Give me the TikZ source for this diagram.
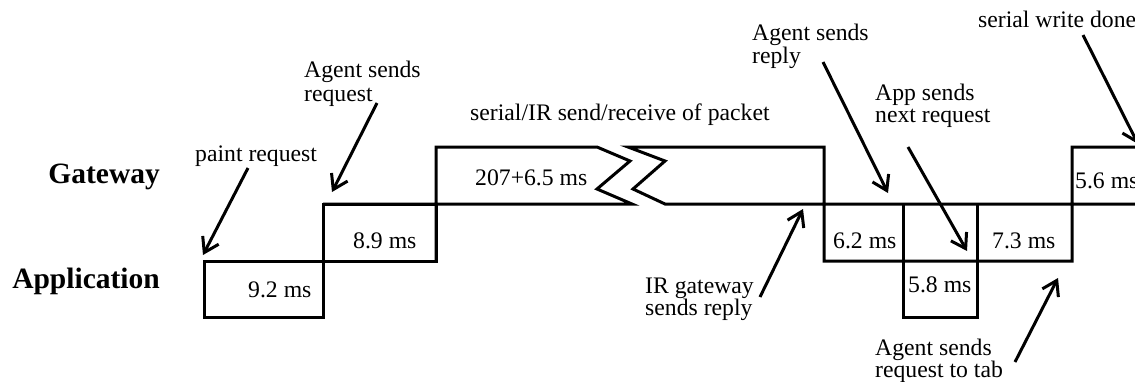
\documentclass[tikz,border=0pt]{standalone}
\usepackage{fontspec}
\setmainfont{Liberation Serif}
\usetikzlibrary{arrows.meta}
\begin{document}
\begin{tikzpicture}[x=1pt,y=-1pt,
  wave/.style={line width=3pt,line join=miter},
  ptr/.style={line width=3pt,-{Straight Barb[length=14pt,width=18pt]}},
  txt/.style={anchor=base west,inner sep=0pt,font=\fontsize{23.7}{26}\selectfont},
  lane/.style={anchor=base east,inner sep=0pt,font=\fontsize{29.5}{32}\selectfont\bfseries}]
\clip (0,0) rectangle (1135,381);
% waveform
\draw[wave] (204,261) rectangle (323,317);
\draw[wave] (323,204) rectangle (436,261);
\draw[wave] (436,261) -- (436,147) -- (597,147) -- (630,161) -- (597,189) -- (632,204) -- (323,204);
\draw[wave] (1140,147) -- (1072,147) -- (1072,261) -- (824,261) -- (824,147) -- (628,147) -- (665,161) -- (633,189) -- (665,204) -- (1140,204);
\draw[wave] (903,204) -- (903,317) -- (977,317) -- (977,204);
% lane labels
\node[lane] (gw) at (160,183) {Gateway};
\node[lane] (app) at (160,288) {Application};
% durations
\node[txt] (d1) at (248,297) {9.2 ms};
\node[txt] (d2) at (353,248) {8.9 ms};
\node[txt] (d3) at (475,185) {207+6.5 ms};
\node[txt] (d4) at (833,248) {6.2 ms};
\node[txt] (d5) at (908,292) {5.8 ms};
\node[txt] (d6) at (992,248) {7.3 ms};
\node[txt] (d7) at (1075,188) {5.6 ms};
% annotations
\node[txt] (l1) at (195,161) {paint request};
\node[txt] (l2a) at (304,77) {Agent sends};
\node[txt] (l2b) at (304,101) {request};
\node[txt] (l3) at (470,120) {serial/IR send/receive of packet};
\node[txt] (l4a) at (645,293) {IR gateway};
\node[txt] (l4b) at (645,315) {sends reply};
\node[txt] (l5a) at (752,40) {Agent sends};
\node[txt] (l5b) at (752,63) {reply};
\node[txt] (l6a) at (875,100) {App sends};
\node[txt] (l6b) at (875,122) {next request};
\node[txt] (l7) at (978,27) {serial write done};
\node[txt] (l8a) at (875,355) {Agent sends};
\node[txt] (l8b) at (875,377) {request to tab};
% arrows
\coordinate (a1t) at (248,168); \coordinate (a1h) at (203,255);
\coordinate (a2t) at (377,103); \coordinate (a2h) at (332,192);
\coordinate (a3t) at (760,297); \coordinate (a3h) at (803,209);
\coordinate (a4t) at (823,62);  \coordinate (a4h) at (888,193);
\coordinate (a5t) at (908,147); \coordinate (a5h) at (967,251);
\coordinate (a6t) at (1083,35); \coordinate (a6h) at (1138,144);
\coordinate (a7t) at (1015,362); \coordinate (a7h) at (1058,278);
\draw[ptr] (a1t) -- (a1h);
\draw[ptr] (a2t) -- (a2h);
\draw[ptr] (a3t) -- (a3h);
\draw[ptr] (a4t) -- (a4h);
\draw[ptr] (a5t) -- (a5h);
\draw[ptr] (a6t) -- (a6h);
\draw[ptr] (a7t) -- (a7h);
\end{tikzpicture}
\end{document}
